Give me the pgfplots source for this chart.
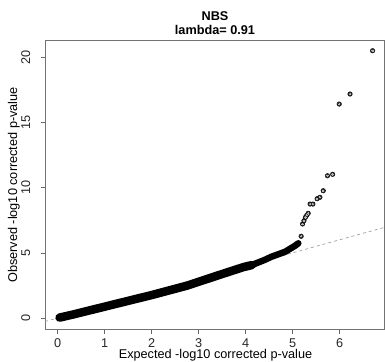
\documentclass[border=0pt]{standalone}
\usepackage{pgfplots}
\pgfplotsset{compat=1.18}
\usepackage{fontspec}
\setmainfont{Liberation Sans}
\begin{document}
\begin{tikzpicture}
\begin{axis}[
  at={(0,0)}, anchor=south west,
  scale only axis, width=339pt, height=288.3pt,
  xmin=-0.27, xmax=6.943, ymin=-0.844, ymax=21.27,
  axis line style={black!55, line width=0.6pt},
  xtick={0,1,2,3,4,5,6}, ytick={0,5,10,15,20},
  xtick pos=lower, ytick pos=left,
  tick align=outside, major tick length=4.5pt,
  tick style={black!60, line width=0.6pt},
  /pgf/number format/assume math mode=true,
  tick label style={font=\fontsize{12.7}{15}\selectfont, text=black!85, inner sep=0pt},
  xticklabel style={yshift=-4.8pt, anchor=north},
  yticklabel style={xshift=-10pt, rotate=90, anchor=south},
  clip=false,
]
\addplot[gray!85, line width=0.6pt, dash pattern=on 3pt off 3pt] coordinates {(-0.27,-0.27) (6.943,6.943)};
\addplot[black, line width=8.5pt, line cap=round, line join=round] coordinates {
(0.04,0.03) (0.33,0.27) (1.0,0.87) (2.0,1.76) (2.75,2.48) (3.42,3.28) (3.95,3.90) (4.13,4.06)};
\addplot[black, line width=6.5pt, line cap=round, line join=round] coordinates {
(4.13,4.06) (4.4,4.45) (4.55,4.70) (4.84,5.08) (5.05,5.54) (5.12,5.73)};
\addplot[only marks, mark=*, mark size=2.3pt, mark options={draw=black, fill=black!80, line width=0.4pt}] coordinates {
(5.18,6.27) (5.21,7.21) (5.24,7.46) (5.27,7.72) (5.30,7.88) (5.33,8.03)
(5.37,8.74) (5.43,8.74) (5.52,9.15) (5.58,9.26) (5.65,9.76)
(5.74,10.91) (5.85,11.02) (5.99,16.41) (6.22,17.18) (6.70,20.50)};
\addplot[only marks, mark=*, mark size=0.7pt, mark options={draw=black!30, fill=black!30, line width=0pt}] coordinates {
(5.18,6.27) (5.21,7.21) (5.24,7.46) (5.27,7.72) (5.30,7.88) (5.33,8.03)
(5.37,8.74) (5.43,8.74) (5.52,9.15) (5.58,9.26) (5.65,9.76)
(5.74,10.91) (5.85,11.02) (5.99,16.41) (6.22,17.18) (6.70,20.50)};
\end{axis}
\node[anchor=base, inner sep=0pt, font=\fontsize{12.7}{15}\selectfont\bfseries] at (170pt,308.3pt) {NBS};
\node[anchor=base, inner sep=0pt, font=\fontsize{12.7}{15}\selectfont\bfseries] at (170pt,294.3pt) {lambda= 0.91};
\node[anchor=base, inner sep=0pt, font=\fontsize{12.7}{15}\selectfont] at (170.5pt,-29.6pt) {Expected -log10 corrected p-value};
\node[anchor=base, inner sep=0pt, rotate=90, font=\fontsize{12.7}{15}\selectfont] at (-27.8pt,144pt) {Observed -log10 corrected p-value};
\pgfresetboundingbox
\useasboundingbox (-45pt,-32pt) rectangle (340pt,329pt);
\end{tikzpicture}
\end{document}
